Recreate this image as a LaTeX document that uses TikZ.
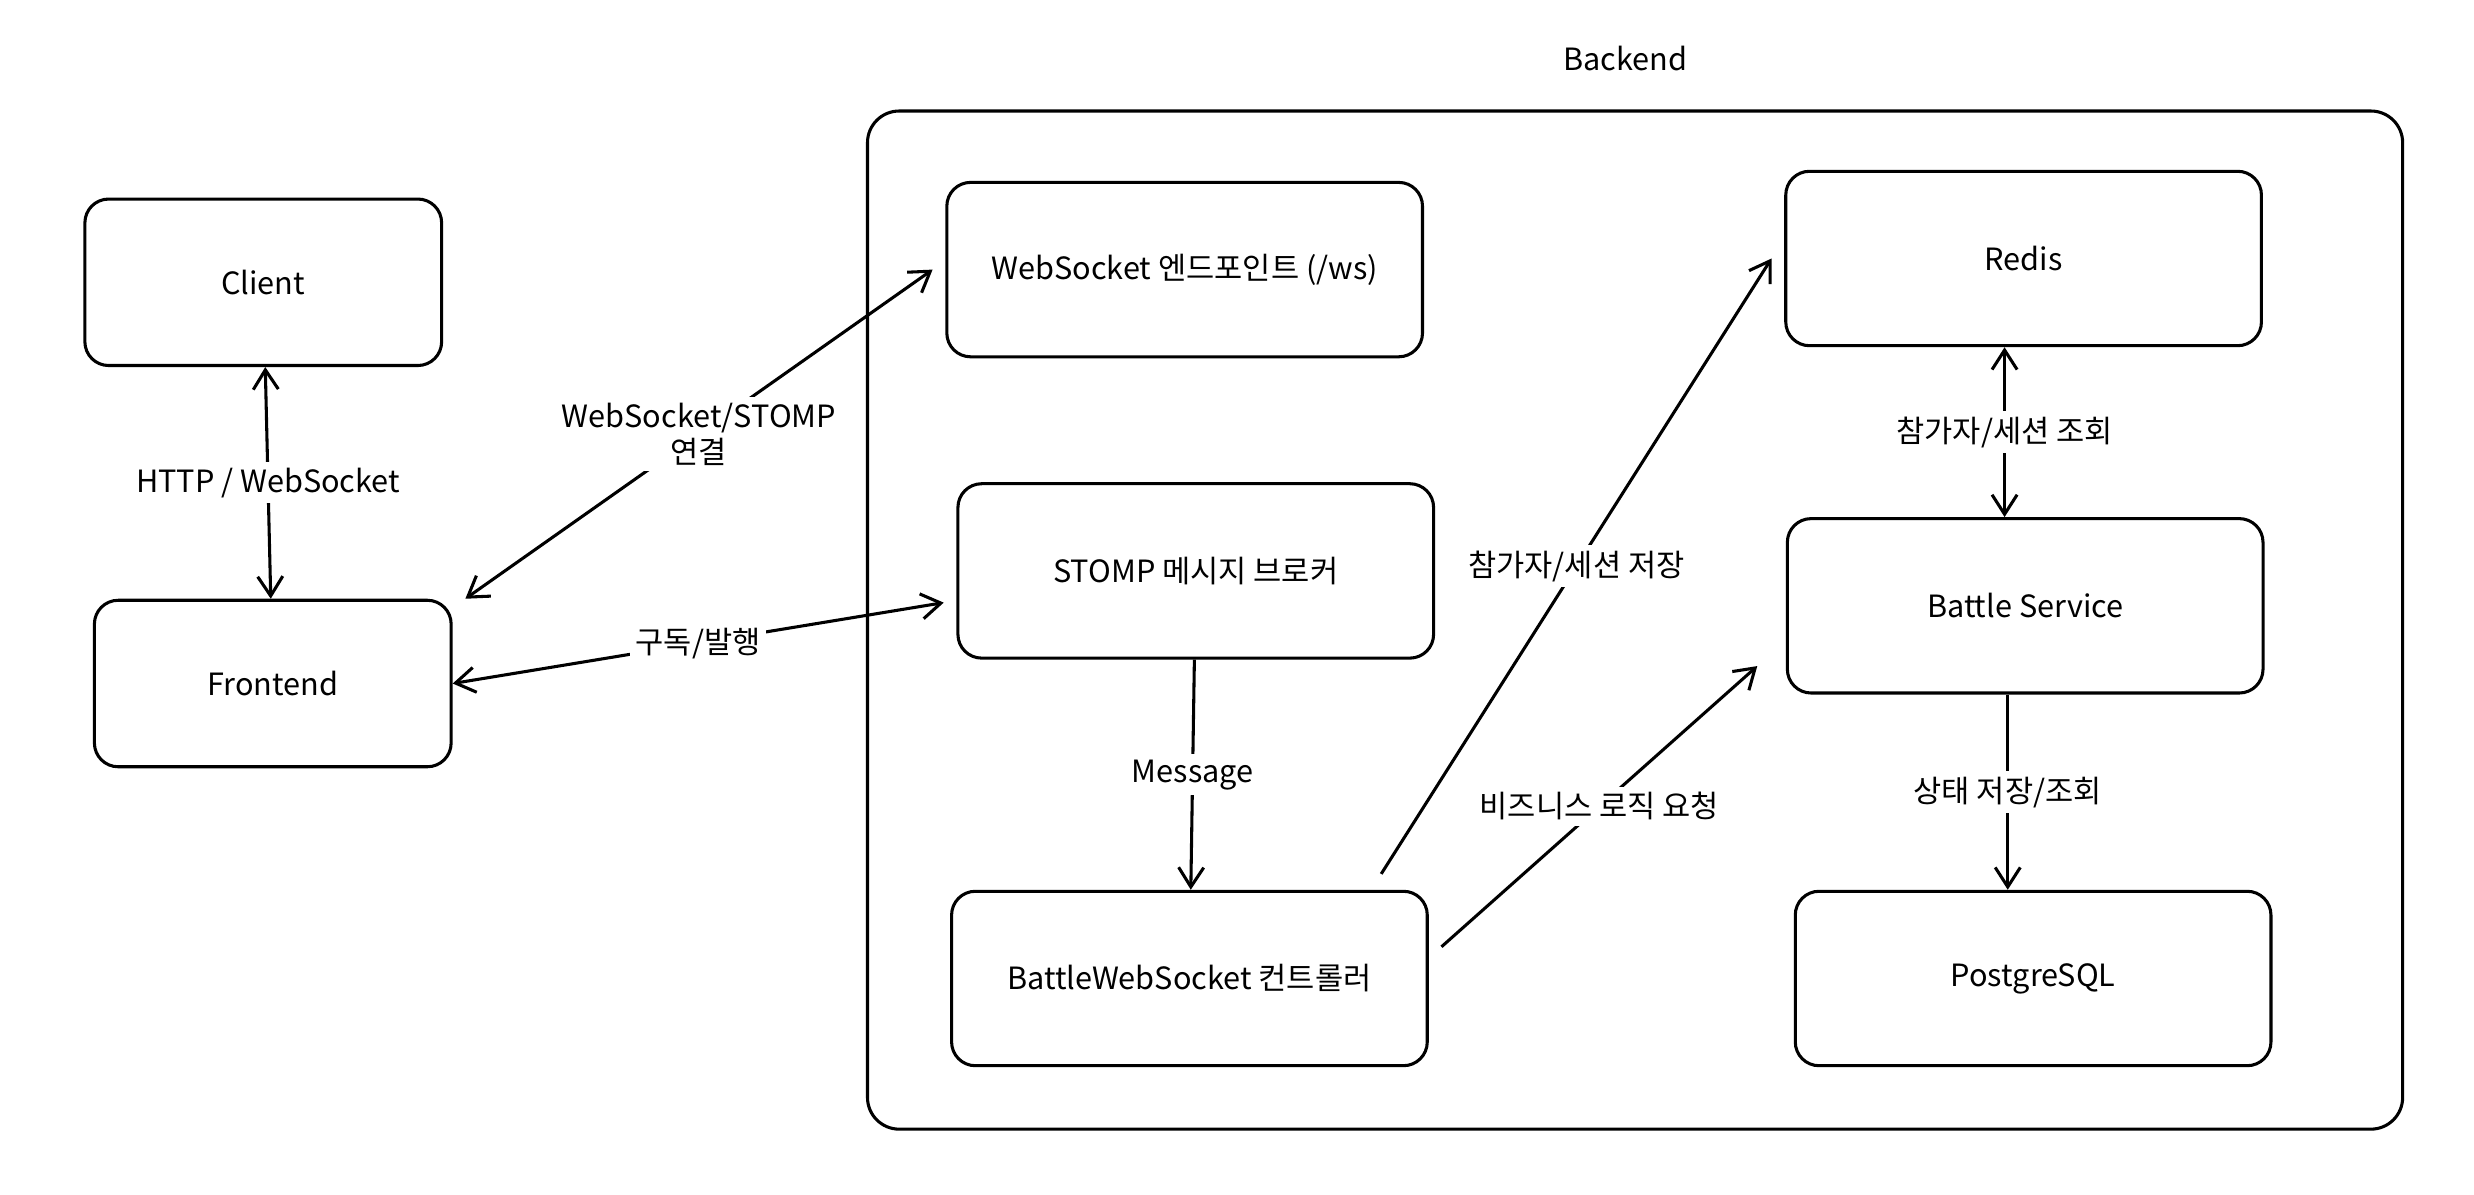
\documentclass[tikz,border=0pt]{standalone}
\usepackage{fontspec}
\setmainfont{Noto Sans CJK KR}
\usetikzlibrary{arrows.meta,calc,positioning}
\tikzset{
    block/.style = {draw, rectangle, rounded corners=0.3cm, line width=1.1pt,
        minimum height=2.2cm,
        minimum width=6cm, font=\fontsize{11}{13}\selectfont},
    small/.style = {block, minimum width=4.5cm, minimum height=2.1cm},
    lbl/.style = {fill=white, inner sep=2pt, align=center, font=\fontsize{11}{13}\selectfont},
    tip/.tip = {Straight Barb[length=7pt,width=9pt]},
    conn/.style = {line width=1.1pt, -tip},
    both/.style = {line width=1.1pt, tip-tip},
}
\begin{document}
\begin{tikzpicture}[x=0.02cm, y=-0.02cm]
		\useasboundingbox (0,0) rectangle (1560,753);
		% backend frame
		\draw [line width=1.1pt, rounded corners=0.4cm] (547,70) rectangle (1515,712);
		\node [font=\fontsize{11}{13}\selectfont] (backendlabel) at (1025,37) {Backend};
		
		% left side
		\node [small] (client) at (166,178) {Client};
		\node [small] (frontend) at (172,431) {Frontend};
		
		% backend blocks
		\node [block] (endpoint) at (747,170) {WebSocket 엔드포인트 (/ws)};
		\node [block] (broker) at (754,360) {STOMP 메시지 브로커};
		\node [block] (controller) at (750,617) {BattleWebSocket 컨트롤러};
		\node [block] (redis) at (1276,163) {Redis};
		\node [block] (service) at (1277,382) {Battle Service};
		\node [block] (postgres) at (1282,617) {PostgreSQL};
		
		%% connecting lines
		\draw [both] (client) -- node [lbl] {HTTP / WebSocket} (frontend);
		\draw [both] ($(frontend.north east)+(8,0)$) -- node [lbl] {WebSocket/STOMP\\연결} ($(endpoint.west)+(-8,0)$);
		\draw [both] (frontend.east) -- node [lbl] {구독/발행} ($(broker.west)+(-8,20)$);
		\draw [conn] (broker) -- node [lbl] {Message} (controller);
		\draw [conn] ($(controller.north east)+(-30,-10)$) -- node [lbl] {참가자/세션 저장} ($(redis.west)+(-8,0)$);
		\draw [conn] ($(controller.east)+(8,-20)$) -- node [lbl] {비즈니스 로직 요청} ($(service.west)+(-18,38)$);
		\draw [both] (redis.south -| 1264,0) -- node [lbl] {참가자/세션 조회} (service.north -| 1264,0);
		\draw [conn] (service.south -| 1266,0) -- node [lbl] {상태 저장/조회} (postgres.north -| 1266,0);

	\end{tikzpicture}
\end{document}
